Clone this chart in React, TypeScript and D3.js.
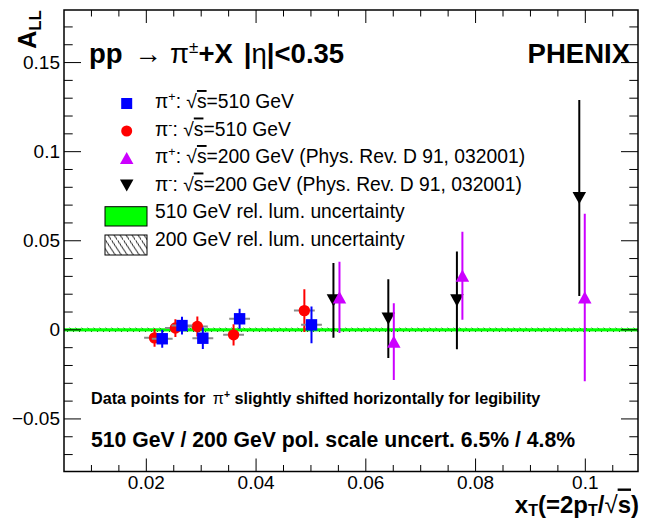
import React from "react";
import * as d3 from "d3";

// pi+ at sqrt(s)=510 GeV
const xPiPlus510 = [0.0229, 0.0265, 0.0303, 0.037, 0.0501];
const aPiPlus510 = [-0.005, 0.0024, -0.0047, 0.0062, 0.0028];
const ePiPlus510 = [0.005, 0.005, 0.006, 0.0056, 0.0103];
// pi- at sqrt(s)=510 GeV
const xPiMinus510 = [0.0215, 0.0253, 0.0293, 0.0359, 0.0488];
const aPiMinus510 = [-0.0045, 0.001, 0.0019, -0.0028, 0.0108];
const ePiMinus510 = [0.005, 0.005, 0.0056, 0.006, 0.012];
// pi+ at sqrt(s)=200 GeV
const xPiPlus200 = [0.0552, 0.0651, 0.0776, 0.0999];
const aPiPlus200 = [0.0182, -0.0066, 0.0304, 0.0182];
const ePiPlus200 = [0.02, 0.0215, 0.0247, 0.047];
// pi- at sqrt(s)=200 GeV
const xPiMinus200 = [0.0541, 0.0641, 0.0766, 0.0989];
const aPiMinus200 = [0.0165, 0.0063, 0.0165, 0.074];
const ePiMinus200 = [0.021, 0.0221, 0.0274, 0.055];

const yTickValues = [-0.05, 0, 0.05, 0.1, 0.15];
const yTickLabels = ["\u22120.05", "0", "0.05", "0.1", "0.15"];
const xTickValues = [0.02, 0.04, 0.06, 0.08, 0.1];
const xTickLabels = ["0.02", "0.04", "0.06", "0.08", "0.1"];

const X_MIN = 0.005, X_MAX = 0.1096;
const Y_MIN = -0.0795, Y_MAX = 0.1795;
const LUM510 = 0.0006;
const LUM200 = 0.0012;

const FONT = "'Liberation Sans', Arial, Helvetica, sans-serif";
const MAGENTA = "#cc00ff";

export default function App() {
  const L = 64, R = 638, T = 10, B = 471.5;
  const x = d3.scaleLinear().domain([X_MIN, X_MAX]).range([L, R]);
  const y = d3.scaleLinear().domain([Y_MIN, Y_MAX]).range([B, T]);

  const yMinor = d3.range(-0.07, 0.1751, 0.01).map((v) => Math.round(v * 1000) / 1000);
  const xMinor = d3.range(0.01, 0.1091, 0.005).map((v) => Math.round(v * 10000) / 10000);

  const tri = (cx: number, cy: number, up: boolean, s = 13.5) => {
    const h = s * 0.9;
    return up
      ? `M${cx - s / 2},${cy + h / 2}L${cx + s / 2},${cy + h / 2}L${cx},${cy - h / 2}Z`
      : `M${cx - s / 2},${cy - h / 2}L${cx + s / 2},${cy - h / 2}L${cx},${cy + h / 2}Z`;
  };
  const sysHalf = 0.0019;

  const legendRows = [108, 135.5, 163, 190.5, 218, 245.5];
  const legMarkX = 126.7;
  const legTextX = 155;
  const LEG_FS = 19.3;

  return (
    <svg width={650} height={518} style={{ position: "absolute", left: 0, top: 0 }} fontFamily={FONT}>
      <defs>
        <pattern id="hatch" patternUnits="userSpaceOnUse" width={6} height={6}>
          <path d="M-1,-1L7,7M-7,-1L1,7M5,-1L13,7" stroke="#000" strokeWidth={0.9} />
        </pattern>
        <pattern id="hatch2" patternUnits="userSpaceOnUse" width={6} height={20} patternTransform="skewX(20)">
          <path d="M0,0L6,20" stroke="#000" strokeWidth={0.9} />
        </pattern>
        <clipPath id="frameClip">
          <rect x={L} y={T} width={R - L} height={B - T} />
        </clipPath>
      </defs>
      <rect width={650} height={518} fill="#fff" />

      {/* luminosity bands */}
      <g clipPath="url(#frameClip)">
        <rect x={L} y={y(LUM200)} width={R - L} height={y(-LUM200) - y(LUM200)} fill="url(#hatch)" />
        <rect x={L} y={y(LUM510) - 0.5} width={R - L} height={y(-LUM510) - y(LUM510) + 1} fill="#00ff00" />
      </g>

      {/* frame */}
      <rect x={L} y={T} width={R - L} height={B - T} fill="none" stroke="#000" strokeWidth={1.5} />

      {/* y ticks */}
      {yMinor.map((v, i) => {
        const major = yTickValues.some((t) => Math.abs(t - v) < 1e-6);
        const len = major ? 17 : 8.7;
        return (
          <g key={"yt" + i} stroke="#000" strokeWidth={1}>
            <line x1={L} x2={L + len} y1={y(v)} y2={y(v)} />
            <line x1={R} x2={R - len} y1={y(v)} y2={y(v)} />
          </g>
        );
      })}
      {/* x ticks */}
      {xMinor.map((v, i) => {
        const major = xTickValues.some((t) => Math.abs(t - v) < 1e-6);
        const len = major ? 13 : 6.5;
        return (
          <g key={"xt" + i} stroke="#000" strokeWidth={1}>
            <line x1={x(v)} x2={x(v)} y1={B} y2={B - len} />
            <line x1={x(v)} x2={x(v)} y1={T} y2={T + len} />
          </g>
        );
      })}
      {yTickValues.map((v, i) => (
        <text key={"yl" + i} x={60} y={y(v) + 6.5} textAnchor="end" fontSize={19} fill="#000">
          {yTickLabels[i]}
        </text>
      ))}
      {xTickValues.map((v, i) => (
        <text key={"xl" + i} x={x(v)} y={489} textAnchor="middle" fontSize={19} fill="#000">
          {xTickLabels[i]}
        </text>
      ))}

      {/* axis titles */}
      <text transform="translate(36,10) rotate(-90)" textAnchor="end" fontWeight="bold" fontSize={25} fill="#000">
        A<tspan fontSize={17} dy={5}>LL</tspan>
      </text>
      <text x={639} y={512.5} textAnchor="end" fontWeight="bold" fontSize={24} fill="#000">
        x<tspan fontSize={16} dy={3}>T</tspan>
        <tspan dy={-3}>(=2p</tspan>
        <tspan fontSize={16} dy={3}>T</tspan>
        <tspan dy={-3}>/</tspan>
        <tspan fontWeight="normal">{"\u221A"}</tspan>
        <tspan textDecoration="overline">s</tspan>
        <tspan>)</tspan>
      </text>

      {/* header */}
      <text x={89} y={63} fontWeight="bold" fontSize={27.5} fill="#000">
        pp<tspan fontWeight="normal" dx={12}>{"\u2192"}</tspan>
        <tspan dx={8} fontWeight="normal">{"\u03C0"}</tspan>
        <tspan fontSize={17} dy={-10} fontWeight="normal">±</tspan>
        <tspan dy={10}>+X</tspan>
        <tspan dx={11}>|</tspan>
        <tspan fontWeight="normal">{"\u03B7"}</tspan>
        <tspan>|&lt;0.35</tspan>
      </text>
      <text x={630} y={63} textAnchor="end" fontWeight="bold" fontSize={27.5} fill="#000">
        PHENIX
      </text>

      {/* bottom notes */}
      <text x={91} y={404} fontWeight="bold" fontSize={16.2} fill="#000">
        Data points for <tspan fontWeight="normal" dx={3}>{"\u03C0"}</tspan>
        <tspan fontSize={10.5} dy={-6}>+</tspan>
        <tspan dy={6}> slightly shifted horizontally for legibility</tspan>
      </text>
      <text x={91} y={447} fontWeight="bold" fontSize={21.2} fill="#000">
        510 GeV / 200 GeV pol. scale uncert. 6.5% / 4.8%
      </text>

      {/* legend */}
      <rect x={legMarkX - 5.5} y={legendRows[0] - 10} width={11} height={11} fill="#0000ff" />
      <circle cx={legMarkX} cy={legendRows[1] - 4.5} r={5.5} fill="#ff0000" />
      <path d={tri(legMarkX, legendRows[2] - 5, true)} fill={MAGENTA} />
      <path d={tri(legMarkX, legendRows[3] - 5, false)} fill="#000" />
      <rect x={105} y={206.7} width={42} height={19.3} fill="#00ff00" stroke="#000" strokeWidth={1} />
      <rect x={105} y={235} width={42} height={20} fill="url(#hatch2)" stroke="#000" strokeWidth={1} />
      {[
        ["+", "510 GeV"],
        ["-", "510 GeV"],
        ["+", "200 GeV (Phys. Rev. D 91, 032001)"],
        ["-", "200 GeV (Phys. Rev. D 91, 032001)"],
      ].map(([sign, rest], i) => (
        <text key={"lg" + i} x={legTextX} y={legendRows[i]} fontSize={LEG_FS} fill="#000">
          {"\u03C0"}
          <tspan fontSize={12.5} dy={-7}>{sign}</tspan>
          <tspan dy={7}>: {"\u221A"}</tspan>
          <tspan textDecoration="overline">s</tspan>
          <tspan>={rest}</tspan>
        </text>
      ))}
      <text x={legTextX} y={legendRows[4]} fontSize={LEG_FS} fill="#000">510 GeV rel. lum. uncertainty</text>
      <text x={legTextX} y={legendRows[5]} fontSize={LEG_FS} fill="#000">200 GeV rel. lum. uncertainty</text>

      {/* data */}
      <g clipPath="url(#frameClip)">
        {/* pi- 510 */}
        {xPiMinus510.map((xv, i) => (
          <g key={"rm" + i}>
            <line x1={x(xv - sysHalf)} x2={x(xv + sysHalf)} y1={y(aPiMinus510[i])} y2={y(aPiMinus510[i])} stroke="#8a8a8a" strokeWidth={2} />
            <line x1={x(xv)} x2={x(xv)} y1={y(aPiMinus510[i] - ePiMinus510[i])} y2={y(aPiMinus510[i] + ePiMinus510[i])} stroke="#ff0000" strokeWidth={2} />
            <circle cx={x(xv)} cy={y(aPiMinus510[i])} r={5.7} fill="#ff0000" />
          </g>
        ))}
        {/* pi+ 510 */}
        {xPiPlus510.map((xv, i) => (
          <g key={"bp" + i}>
            <line x1={x(xv - sysHalf)} x2={x(xv + sysHalf)} y1={y(aPiPlus510[i])} y2={y(aPiPlus510[i])} stroke="#8a8a8a" strokeWidth={2} />
            <line x1={x(xv)} x2={x(xv)} y1={y(aPiPlus510[i] - ePiPlus510[i])} y2={y(aPiPlus510[i] + ePiPlus510[i])} stroke="#0000ff" strokeWidth={2} />
            <rect x={x(xv) - 5.7} y={y(aPiPlus510[i]) - 5.7} width={11.4} height={11.4} fill="#0000ff" />
          </g>
        ))}
        {/* pi- 200 */}
        {xPiMinus200.map((xv, i) => (
          <g key={"km" + i}>
            <line x1={x(xv)} x2={x(xv)} y1={y(aPiMinus200[i] - ePiMinus200[i])} y2={y(aPiMinus200[i] + ePiMinus200[i])} stroke="#000" strokeWidth={2} />
            <path d={tri(x(xv), y(aPiMinus200[i]), false)} fill="#000" />
          </g>
        ))}
        {/* pi+ 200 */}
        {xPiPlus200.map((xv, i) => (
          <g key={"mp" + i}>
            <line x1={x(xv)} x2={x(xv)} y1={y(aPiPlus200[i] - ePiPlus200[i])} y2={y(aPiPlus200[i] + ePiPlus200[i])} stroke={MAGENTA} strokeWidth={2} />
            <path d={tri(x(xv), y(aPiPlus200[i]), true)} fill={MAGENTA} />
          </g>
        ))}
      </g>
    </svg>
  );
}
